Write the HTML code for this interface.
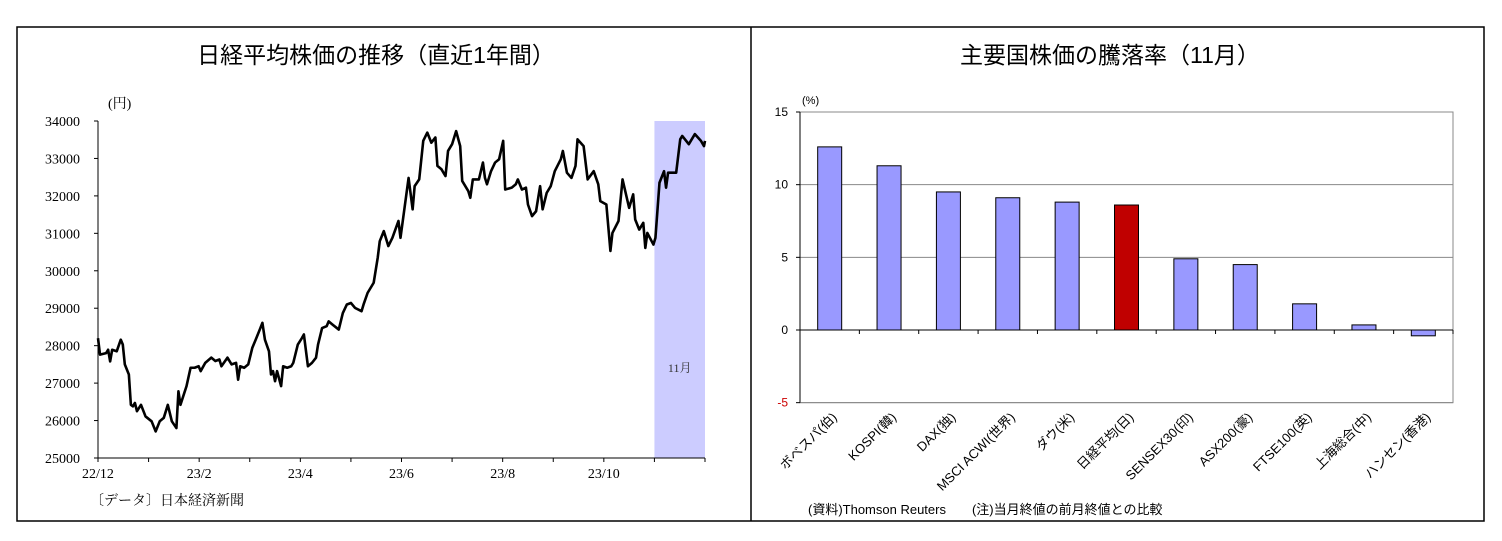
<!DOCTYPE html>
<html><head><meta charset="utf-8"><style>
body{margin:0;background:#fff;width:1502px;height:541px;overflow:hidden}
svg{display:block}
.t{font-family:"Liberation Sans","Noto Sans CJK JP",sans-serif}
.s{font-family:"Liberation Serif","Noto Serif CJK SC",serif}
</style></head><body>
<svg id="svg" width="1502" height="541" xmlns="http://www.w3.org/2000/svg">
<rect x="17" y="27" width="1467" height="494" fill="none" stroke="#000" stroke-width="1.5"/>
<line x1="751" y1="27" x2="751" y2="521" stroke="#000" stroke-width="1.5"/>
<text x="376" y="63" text-anchor="middle" class="t" font-size="23">日経平均株価の推移（直近1年間）</text>
<text x="1110" y="63" text-anchor="middle" class="t" font-size="23">主要国株価の騰落率（11月）</text>
<g id="left"></g>
<g id="right"></g>
</svg>
<script>
const NS="http://www.w3.org/2000/svg";
function mk(p,tag,at){const e=document.createElementNS(NS,tag);for(const k in at)e.setAttribute(k,at[k]);p.appendChild(e);return e;}

// ---- Left chart data ----
const monthPos=[0,0.04,0.16,0.20,0.24,0.28,0.37,0.45,0.49,0.53,0.61,0.65,0.69,0.73,0.77,0.85,0.94,1.06,1.14,1.22,1.30,1.38,1.46,1.55,1.59,1.63,1.75,1.83,1.91,1.99,2.03,2.12,2.24,2.32,2.40,2.44,2.56,2.64,2.73,2.77,2.81,2.89,2.97,3.05,3.13,3.21,3.25,3.30,3.38,3.42,3.46,3.50,3.54,3.62,3.66,3.74,3.82,3.86,3.95,4.03,4.07,4.15,4.23,4.31,4.35,4.43,4.52,4.56,4.64,4.76,4.84,4.92,5.00,5.08,5.21,5.25,5.33,5.45,5.53,5.57,5.65,5.74,5.82,5.94,5.98,6.06,6.14,6.22,6.26,6.35,6.43,6.51,6.59,6.67,6.71,6.79,6.87,6.92,7.00,7.08,7.16,7.20,7.32,7.36,7.41,7.53,7.61,7.65,7.69,7.77,7.85,7.93,8.01,8.05,8.18,8.26,8.30,8.38,8.46,8.50,8.58,8.66,8.74,8.79,8.87,8.95,9.03,9.15,9.19,9.27,9.36,9.44,9.48,9.60,9.68,9.80,9.89,9.93,10.05,10.13,10.17,10.29,10.37,10.50,10.58,10.62,10.70,10.78,10.82,10.86,10.98,11.02,11.10,11.19,11.23,11.27,11.43,11.51,11.55,11.68,11.80,11.92,11.98,12.0];
const nikkei=[28200,27760,27800,27890,27580,27890,27850,28160,28030,27500,27230,26420,26380,26470,26250,26420,26110,25980,25710,25980,26070,26420,25980,25800,26780,26420,26920,27410,27410,27450,27320,27540,27680,27590,27630,27450,27680,27500,27540,27090,27450,27410,27500,27940,28200,28470,28610,28160,27850,27230,27320,27050,27320,26920,27450,27410,27450,27540,28030,28200,28300,27450,27540,27680,28030,28470,28520,28650,28560,28430,28870,29100,29140,29010,28920,29100,29410,29680,30350,30790,31060,30660,30880,31330,30880,31680,32480,31640,32260,32440,33470,33690,33420,33560,32800,32710,32530,33200,33380,33730,33330,32400,32130,31950,32440,32440,32890,32480,32310,32660,32890,32980,33470,32170,32220,32310,32440,32170,32220,31770,31460,31590,32260,31640,32080,32260,32660,32980,33200,32620,32480,32800,33510,33330,32440,32660,32310,31860,31770,30530,31010,31330,32440,31680,32040,31370,31100,31280,30610,31010,30700,30880,32350,32660,32220,32620,32620,33510,33600,33380,33650,33470,33330,33470];
const yTicks=[25000,26000,27000,28000,29000,30000,31000,32000,33000,34000];
const xTickLabels=["22/12","23/2","23/4","23/6","23/8","23/10"];
const xTickMonths=[0,2,4,6,8,10];
const shadeFrom=11, shadeTo=12;

const L=document.getElementById('left');
const lx0=98,lx1=705,ly0=458,ly1=121;
const X=m=>lx0+(lx1-lx0)*m/12;
const Y=v=>ly0-(ly0-ly1)*(v-25000)/9000;
let e=mk(L,'rect',{x:X(shadeFrom),y:ly1,width:X(shadeTo)-X(shadeFrom),height:ly0-ly1,fill:'#ccccff'});


e=mk(L,'text',{x:X(11.5),y:372,'text-anchor':'middle','font-size':12,class:'s',fill:'#333'});e.textContent='11月';


mk(L,'line',{x1:lx0,y1:ly1,x2:lx0,y2:ly0,stroke:'#000'});
mk(L,'line',{x1:lx0,y1:ly0,x2:lx1,y2:ly0,stroke:'#000'});
yTicks.forEach(v=>{mk(L,'line',{x1:lx0-4,y1:Y(v),x2:lx0,y2:Y(v),stroke:'#000'});
 const t=mk(L,'text',{x:80,y:Y(v)+5,'text-anchor':'end','font-size':14,class:'s'});t.textContent=v;
 
 });
for(let m=0;m<=12;m++)mk(L,'line',{x1:X(m),y1:ly0,x2:X(m),y2:ly0+4,stroke:'#000'});
xTickLabels.forEach((s,i)=>{const t=mk(L,'text',{x:X(xTickMonths[i]),y:478,'text-anchor':'middle','font-size':14,class:'s'});t.textContent=s;
 
 });
e=mk(L,'text',{x:108,y:108,'font-size':14,class:'s'});e.textContent='(円)';


e=mk(L,'text',{x:90,y:505,'font-size':14,class:'s'});e.textContent='〔データ〕日本経済新聞';


e=mk(L,'polyline',{points:nikkei.map((v,i)=>X(monthPos[i])+','+Y(v)).join(' '),fill:'none',stroke:'#000','stroke-width':2.6,'stroke-linejoin':'round'});



// ---- Right chart data ----
const cats=["ボベスパ(伯)","KOSPI(韓)","DAX(独)","MSCI ACWI(世界)","ダウ(米)","日経平均(日)","SENSEX30(印)","ASX200(豪)","FTSE100(英)","上海総合(中)","ハンセン(香港)"];
const returns=[12.6,11.3,9.5,9.1,8.8,8.6,4.9,4.5,1.8,0.35,-0.4];
const rTicks=[-5,0,5,10,15];
const R=document.getElementById('right');
const rx0=800,rx1=1453,ry15=112,ry0=330;
const RY=v=>ry0-(ry0-ry15)*v/15;
const cw=(rx1-rx0)/cats.length;
mk(R,'rect',{x:rx0,y:RY(15),width:rx1-rx0,height:RY(-5)-RY(15),fill:'none',stroke:'#888'});
rTicks.forEach(v=>{mk(R,'line',{x1:rx0,y1:RY(v),x2:rx1,y2:RY(v),stroke:v==0?'#000':'#888'});
 mk(R,'line',{x1:rx0-4,y1:RY(v),x2:rx0,y2:RY(v),stroke:'#000'});
 const t=mk(R,'text',{x:788,y:RY(v)+4,'text-anchor':'end','font-size':12,class:'t',fill:v<0?'#c00':'#000'});t.textContent=v;
 
 });
mk(R,'line',{x1:rx0,y1:RY(15),x2:rx0,y2:RY(-5),stroke:'#000'});
e=mk(R,'text',{x:802,y:104,'font-size':11,class:'t'});e.textContent='(%)';


cats.forEach((c,i)=>{const cx=rx0+cw*(i+0.5);const v=returns[i];
 mk(R,'line',{x1:rx0+cw*(i+1),y1:ry0,x2:rx0+cw*(i+1),y2:ry0+4,stroke:'#000'});
 const b=mk(R,'rect',{x:cx-12,y:Math.min(RY(v),ry0),width:24,height:Math.abs(RY(v)-ry0),fill:c.startsWith('日経')?'#c00000':'#9999ff',stroke:'#000','stroke-width':1});
 
 
 const t=mk(R,'text',{x:cx+8,y:418,'text-anchor':'end','font-size':13,class:'t',transform:`rotate(-45 ${cx+8} 418)`});t.textContent=c;
 
 });
e=mk(R,'text',{x:808,y:514,'font-size':13,class:'t'});e.textContent='(資料)Thomson Reuters　　(注)当月終値の前月終値との比較';


</script>
</body></html>
